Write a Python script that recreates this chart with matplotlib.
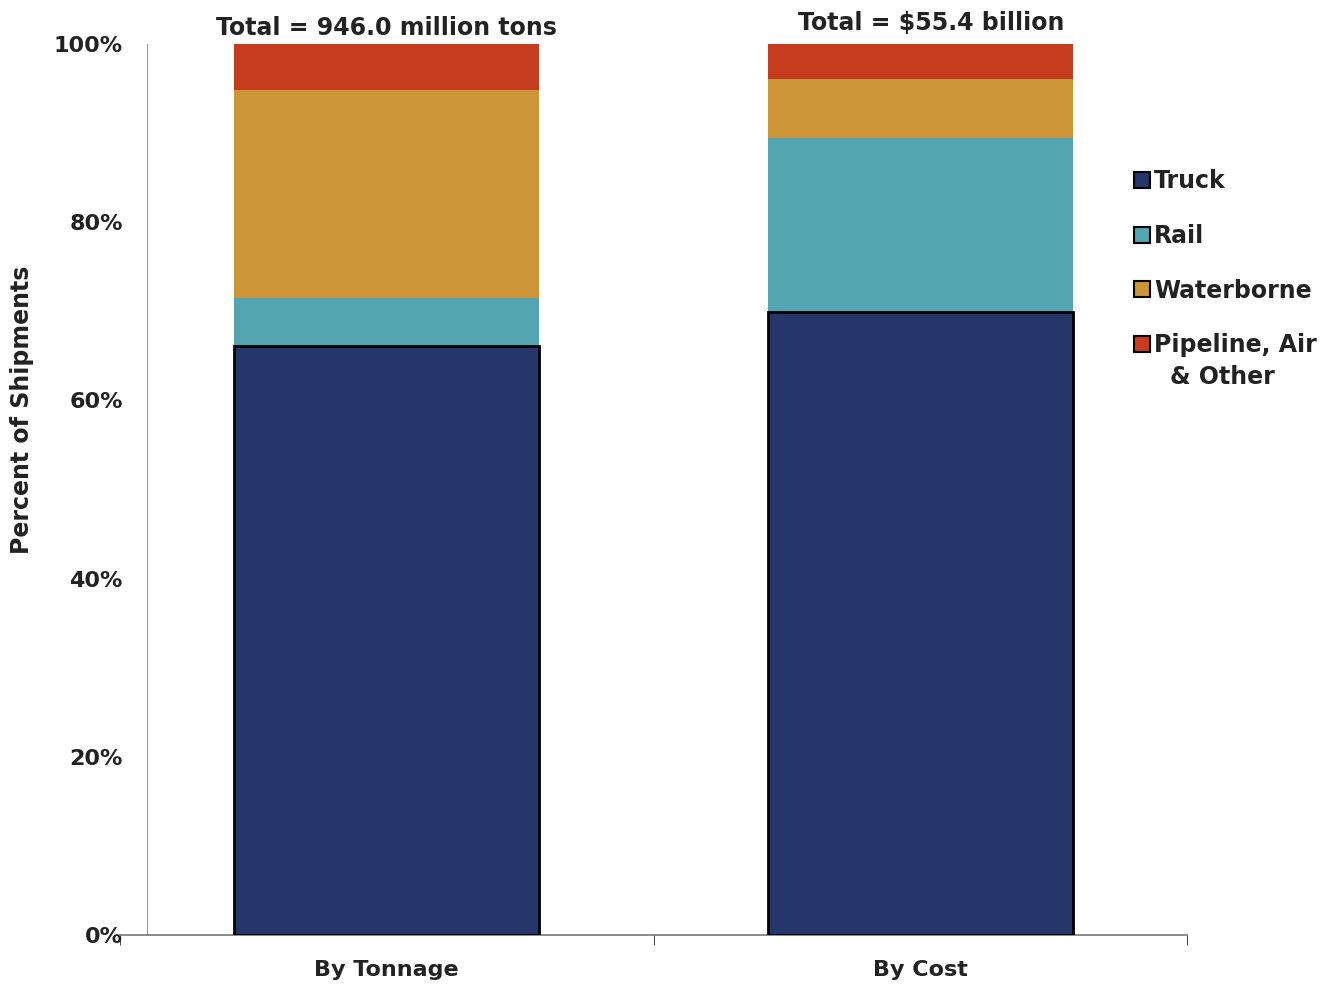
import matplotlib
matplotlib.use("Agg")
import matplotlib.pyplot as plt
import numpy as np

# data (percent of shipments)
categories = ["By Tonnage", "By Cost"]
modes = ["Truck", "Rail", "Waterborne", "Pipeline, Air"]
truck = [66.1, 69.9]
rail = [5.4, 19.5]
waterborne = [23.3, 6.7]
other = [5.2, 3.9]
totals = ["Total = 946.0 million tons", "Total = $55.4 billion"]

colors = ["#25366B", "#52A4B0", "#CC9537", "#C53D1E"]

plt.rcParams["font.family"] = ["DejaVu Sans"]
plt.rcParams["font.weight"] = "bold"

fig = plt.figure(figsize=(13.2, 9.84), dpi=100)
ax = fig.add_axes([120/1320, 1 - 935/984, 1067/1320, 891/984])

x = np.arange(len(categories))
w = 0.572
series = [truck, rail, waterborne, other]
bottom = np.zeros(len(categories))
for i, vals in enumerate(series):
    if i == 0:
        ax.bar(x, vals, w, bottom=bottom, color=colors[i], edgecolor="black", linewidth=2, label=modes[i], zorder=3)
    else:
        ax.bar(x, vals, w, bottom=bottom, color=colors[i], edgecolor="none", label=modes[i], zorder=2)
    bottom = bottom + np.array(vals)

ax.set_xlim(-0.5, 1.5)
ax.set_ylim(0, 100)

# totals above bars
ax.text(0, 100.4, totals[0], ha="center", va="bottom", fontsize=17, color="#222222")
ax.text(1.02, 101.0, totals[1], ha="center", va="bottom", fontsize=17, color="#222222", clip_on=False)

# axes styling
for s in ["top", "right"]:
    ax.spines[s].set_visible(False)
ax.spines["left"].set_position(("data", -0.449))
ax.spines["left"].set_color("#999999")
ax.spines["bottom"].set_color("#777777")
ax.spines["bottom"].set_linewidth(1.2)

ax.set_yticks([0, 20, 40, 60, 80, 100])
ax.set_yticklabels(["0%", "20%", "40%", "60%", "80%", "100%"], fontsize=16, color="#222222")
ax.tick_params(axis="y", length=0, pad=17.5)

ax.set_xticks(x)
ax.set_xticklabels(categories, fontsize=16, color="#222222")
ax.tick_params(axis="x", length=0, pad=18)
ax.set_xticks([-0.5, 0.5, 1.5], minor=True)
ax.tick_params(axis="x", which="minor", length=7, direction="out", color="#222222")

fig.text(22/1320, 1 - 410/984, "Percent of Shipments", rotation=90, ha="center", va="center",
         fontsize=17, color="#222222")

leg = ax.legend(loc="upper left", bbox_to_anchor=(1113/1320, 1 - 148/984), bbox_transform=fig.transFigure,
                frameon=False, fontsize=17, handlelength=0.65, handleheight=0.65, handletextpad=0.2,
                labelspacing=1.3)
for h in leg.legend_handles:
    h.set_edgecolor("black")
    h.set_linewidth(1.5)
for t in leg.get_texts():
    t.set_color("#222222")
# second line of the last legend entry
fig.text(1222/1320, 1 - 377/984, "& Other", ha="center", va="center", fontsize=17, color="#222222")

fig.savefig("out.png", dpi=100)
